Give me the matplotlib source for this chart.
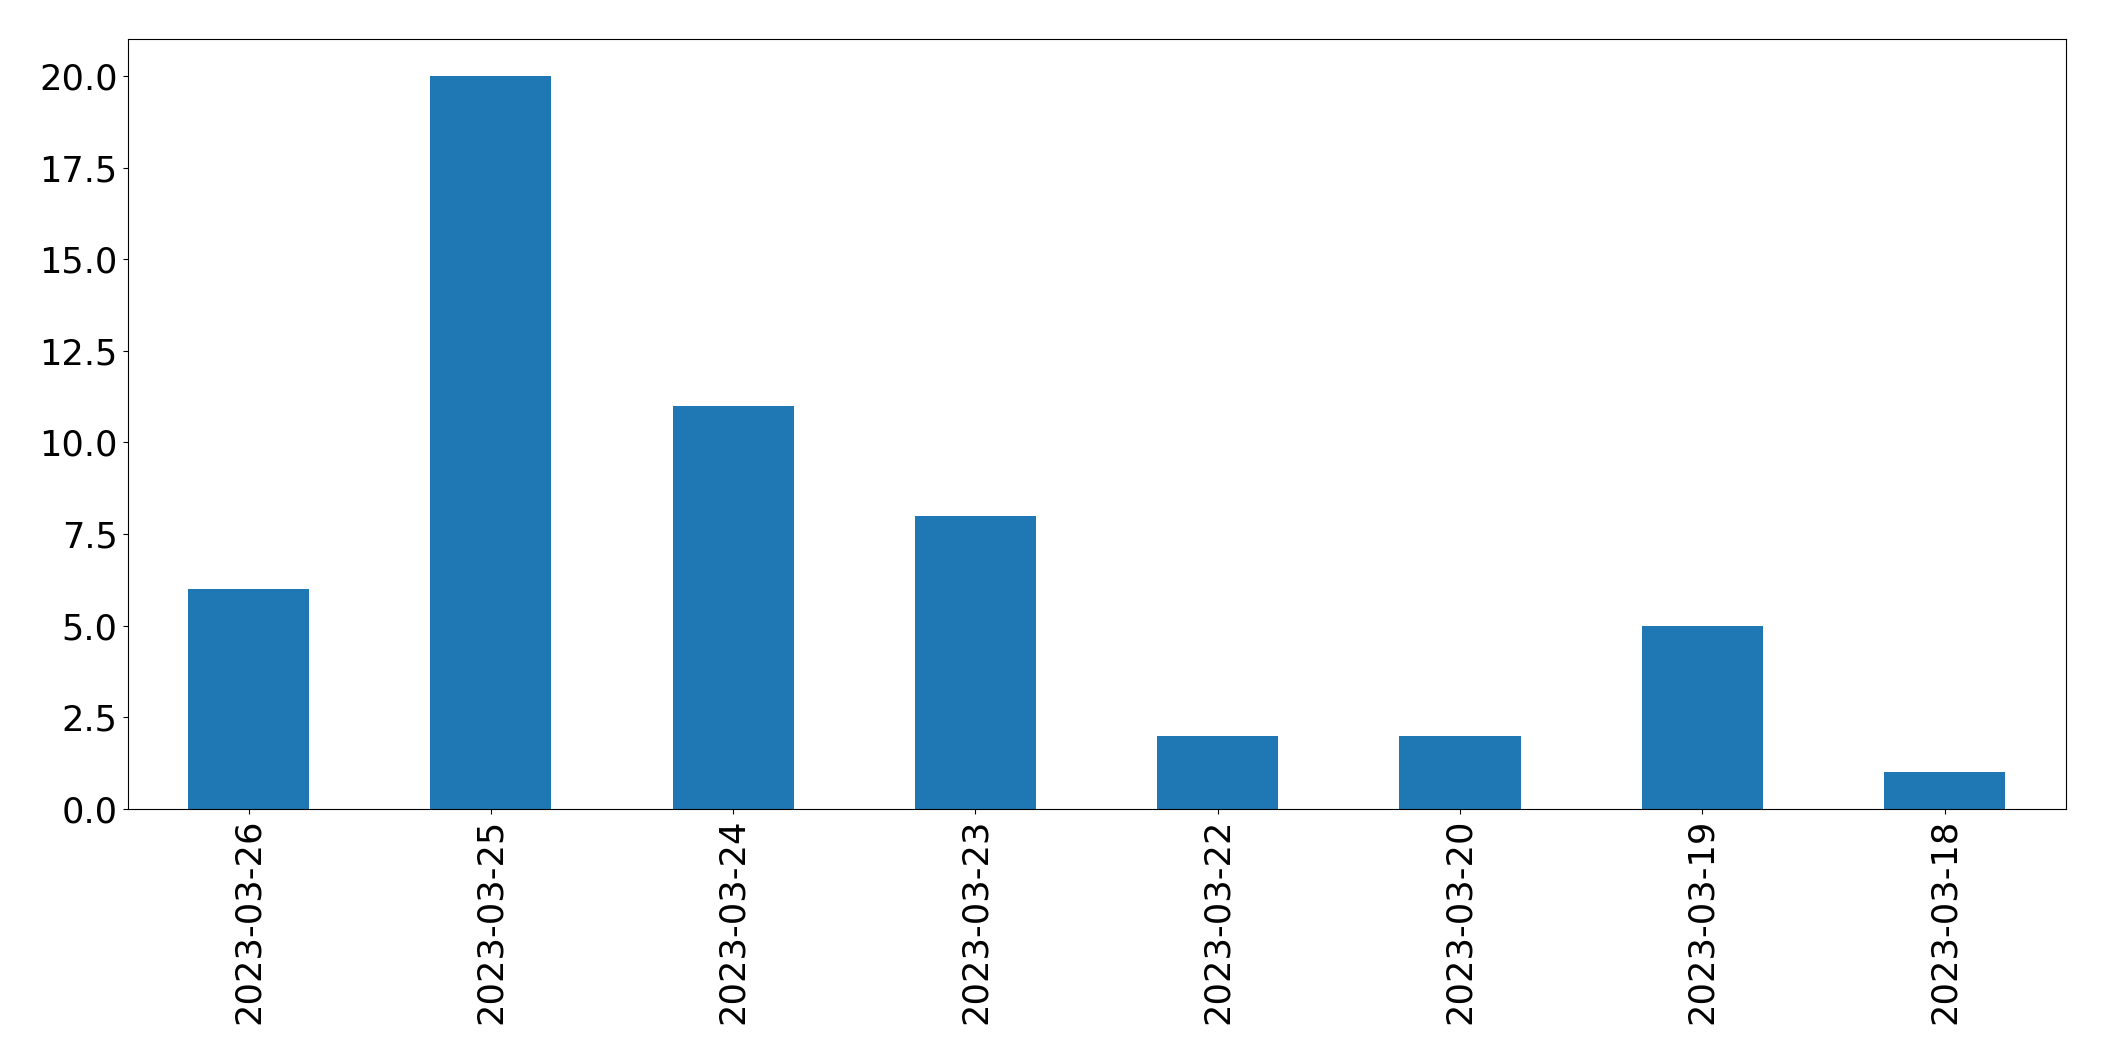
import matplotlib
matplotlib.use("Agg")
import matplotlib.pyplot as plt

dates = ["2023-03-26", "2023-03-25", "2023-03-24", "2023-03-23",
         "2023-03-22", "2023-03-20", "2023-03-19", "2023-03-18"]
counts = [6, 20, 11, 8, 2, 2, 5, 1]

fig = plt.figure(figsize=(21.04, 10.61), dpi=100)
ax = fig.add_axes([127.5 / 2104, 1 - 809 / 1061, (2065.7 - 127.5) / 2104, (809 - 39.3) / 1061])
x = list(range(len(dates)))
ax.bar(x, counts, width=0.5, color="#1f77b4")
ax.set_xticks(x)
ax.set_xticklabels(dates, rotation=90)
ax.set_xlim(-0.5, len(dates) - 0.5)
ax.set_ylim(0, 21)
ax.set_yticks([0, 2.5, 5, 7.5, 10, 12.5, 15, 17.5, 20])
ax.set_yticklabels(["0.0", "2.5", "5.0", "7.5", "10.0", "12.5", "15.0", "17.5", "20.0"])
ax.tick_params(labelsize=25.4)
fig.savefig("out.png", dpi=100)
